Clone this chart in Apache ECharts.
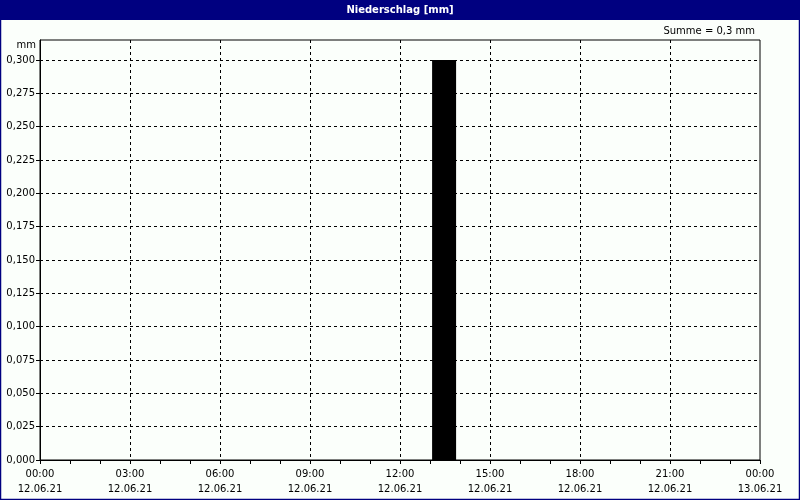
<!DOCTYPE html>
<html>
<head>
<meta charset="utf-8">
<script src="https://cdn.jsdelivr.net/npm/echarts@6/dist/echarts.min.js"></script>
<style>
  html, body { margin: 0; padding: 0; }
  #main { width: 800px; height: 500px; }
</style>
</head>
<body>
<div id="main"></div>
<script>
// Stunden seit 12.06.21 00:00
var barHours = [13.47];
var barValues = [0.3];
var tickTimes = ['00:00', '03:00', '06:00', '09:00', '12:00', '15:00', '18:00', '21:00', '00:00'];
var tickDates = ['12.06.21', '12.06.21', '12.06.21', '12.06.21', '12.06.21', '12.06.21', '12.06.21', '12.06.21', '13.06.21'];

var font = 'DejaVu Sans';
var chart = echarts.init(document.getElementById('main'));

chart.setOption({
  backgroundColor: '#fbfffb',
  animation: false,
  grid: {
    left: 40, right: 40, top: 40, bottom: 40,
    show: true,
    borderColor: '#000',
    borderWidth: 1
  },
  graphic: [
    { type: 'rect', shape: { x: 0, y: 0, width: 800, height: 20 }, style: { fill: '#000080' }, z: 10 },
    { type: 'text', x: 400, y: 10, style: { text: 'Niederschlag [mm]', fill: '#fff', font: 'bold 10px ' + font, textAlign: 'center', textVerticalAlign: 'middle' }, z: 11 },
    { type: 'rect', shape: { x: 0.5, y: 0.5, width: 799, height: 499 }, style: { fill: 'none', stroke: '#000080', lineWidth: 1.5 }, z: 10 },
    { type: 'text', x: 755, y: 31, style: { text: 'Summe = 0,3 mm', fill: '#000', font: '10px ' + font, textAlign: 'right', textVerticalAlign: 'middle' }, z: 11 },
    { type: 'text', x: 36, y: 45, style: { text: 'mm', fill: '#000', font: '10px ' + font, textAlign: 'right', textVerticalAlign: 'middle' }, z: 11 }
  ],
  xAxis: {
    type: 'value',
    min: 0,
    max: 24,
    interval: 3,
    axisLine: { lineStyle: { color: '#000' } },
    axisTick: { show: true, length: 4, lineStyle: { color: '#000' } },
    minorTick: { show: true, splitNumber: 3, length: 4, lineStyle: { color: '#000' } },
    splitLine: { show: true, showMinLine: false, showMaxLine: false, lineStyle: { color: '#000', type: [3, 3] } },
    axisLabel: {
      color: '#000',
      fontFamily: font,
      fontSize: 10,
      lineHeight: 15,
      margin: 7,
      formatter: function (v) {
        var i = Math.round(v / 3);
        return tickTimes[i] + '\n' + tickDates[i];
      }
    }
  },
  yAxis: {
    type: 'value',
    min: 0,
    max: 0.315,
    interval: 0.025,
    axisLine: { show: true, lineStyle: { color: '#000' } },
    axisTick: { show: true, length: 4, lineStyle: { color: '#000' } },
    splitLine: { show: true, showMinLine: false, showMaxLine: false, lineStyle: { color: '#000', type: [3, 3] } },
    axisLabel: {
      color: '#000',
      fontFamily: font,
      fontSize: 10,
      margin: 5,
      showMaxLabel: false,
      formatter: function (v) {
        if (v > 0.3001) return '';
        return v.toFixed(3).replace('.', ',');
      }
    }
  },
  series: [{
    type: 'bar',
    data: barHours.map(function (h, i) { return [h, barValues[i]]; }),
    barWidth: 24,
    itemStyle: { color: '#000' }
  }]
});
</script>
</body>
</html>
